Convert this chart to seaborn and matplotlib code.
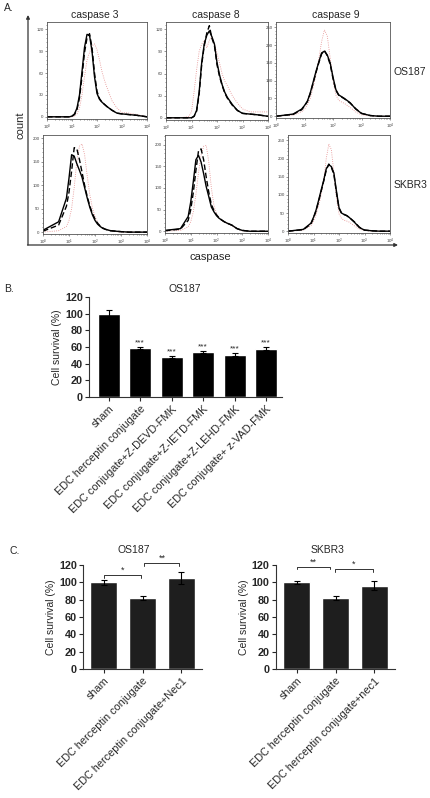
import numpy as np
import matplotlib
matplotlib.use("Agg")
import matplotlib.pyplot as plt
from matplotlib.ticker import AutoMinorLocator, MultipleLocator, LogLocator
import seaborn as sns

# === DANE: HISTOGRAMY (panel A) ===
# log10 intensywnosci kaspazy
log_grid = [0, 0.6, 0.9, 1.0, 1.1, 1.2, 1.3, 1.4, 1.5, 1.6, 1.7, 1.8, 1.9, 2.0,
            2.1, 2.2, 2.3, 2.4, 2.6, 2.8, 3.0, 3.3, 3.6, 4.0]

c3_os_solid = [0, 0, 0, 1, 4, 12, 30, 62, 95, 113, 112, 90, 55, 32, 24, 20, 17, 14, 9, 5, 4, 3, 2, 0]
c3_os_dash = [0, 0, 0, 1, 3, 10, 26, 55, 88, 108, 114, 95, 60, 35, 25, 20, 17, 14, 9, 5, 4, 3, 2, 0]
c3_os_red = [0, 0, 0, 0, 1, 4, 12, 30, 55, 78, 88, 97, 100, 92, 78, 62, 50, 40, 22, 12, 6, 5, 3, 0]

c8_os_solid = [0, 0, 0, 0, 2, 10, 35, 75, 100, 112, 118, 110, 100, 75, 58, 45, 35, 28, 18, 10, 6, 5, 4, 2]
c8_os_dash = [0, 0, 0, 0, 2, 9, 32, 72, 98, 115, 125, 108, 98, 72, 56, 44, 34, 27, 17, 10, 6, 5, 4, 2]
c8_os_red = [0, 0, 2, 8, 35, 65, 90, 100, 105, 95, 105, 110, 100, 88, 74, 60, 50, 44, 30, 20, 12, 8, 8, 8]

c9_os_solid = [0, 6, 20, 30, 42, 65, 95, 125, 152, 178, 183, 172, 150, 110, 75, 60, 55, 50, 38, 20, 8, 2, 0, 0]
c9_os_dash = [0, 5, 18, 29, 41, 63, 92, 122, 150, 175, 185, 170, 146, 106, 73, 59, 54, 49, 37, 21, 8, 2, 0, 0]
c9_os_red = [0, 3, 12, 20, 32, 50, 80, 115, 160, 210, 243, 225, 165, 100, 60, 45, 40, 36, 25, 12, 4, 1, 0, 0]

c3_sk_solid = [4, 22, 72, 115, 165, 162, 146, 132, 117, 95, 73, 53, 37, 25, 17, 12, 8, 6, 3, 2, 1, 0, 0, 0]
c3_sk_dash = [2, 15, 55, 85, 130, 180, 178, 155, 128, 100, 76, 56, 40, 28, 19, 13, 9, 6, 3, 2, 1, 0, 0, 0]
c3_sk_red = [0, 3, 12, 25, 50, 95, 150, 183, 188, 165, 120, 80, 52, 33, 21, 13, 9, 6, 3, 1, 0, 0, 0, 0]

c8_sk_solid = [2, 6, 34, 68, 115, 165, 175, 160, 133, 103, 80, 56, 45, 36, 30, 26, 22, 19, 14, 6, 2, 0, 0, 0]
c8_sk_dash = [1, 5, 25, 50, 90, 140, 185, 190, 165, 125, 90, 62, 48, 38, 31, 26, 22, 19, 14, 6, 2, 0, 0, 0]
c8_sk_red = [0, 2, 10, 22, 45, 85, 135, 175, 196, 198, 160, 100, 60, 40, 30, 25, 22, 19, 13, 5, 1, 0, 0, 0]

c9_sk_solid = [0, 5, 22, 38, 58, 85, 113, 140, 172, 183, 178, 160, 110, 65, 50, 46, 43, 38, 25, 10, 3, 1, 0, 0]
c9_sk_dash = [0, 4, 20, 36, 56, 82, 110, 138, 168, 185, 176, 156, 106, 63, 49, 46, 43, 38, 26, 11, 3, 1, 0, 0]
c9_sk_red = [0, 3, 15, 28, 45, 70, 100, 140, 200, 240, 225, 160, 90, 48, 35, 30, 28, 25, 15, 6, 2, 0, 0, 0]

# === DANE: PANEL B ===
b_labels = ["sham", "EDC herceptin conjugate", "EDC conjugate+Z-DEVD-FMK",
            "EDC conjugate+Z-IETD-FMK", "EDC conjugate+Z-LEHD-FMK", "EDC conjugate+ z-VAD-FMK"]
b_values = [100, 59, 48, 54, 51, 58]
b_errors = [4, 1, 1, 1, 2, 1.5]
b_stars = ["", "***", "***", "***", "***", "***"]

# === DANE: PANEL C ===
c_os_labels = ["sham", "EDC herceptin conjugate", "EDC herceptin conjugate+Nec1"]
c_os_values = [100, 82, 105]
c_os_errors = [2.5, 2, 7]
c_os_brackets = [(0, 0.97, 108, "*"), (1.05, 1.95, 122, "**")]

c_sk_labels = ["sham", "EDC herceptin conjugate", "EDC herceptin conjugate+nec1"]
c_sk_values = [100, 82, 96]
c_sk_errors = [2, 2.5, 5]
c_sk_brackets = [(0, 0.86, 118, "**"), (0.99, 1.96, 115.5, "*")]

y_ticks = [0, 20, 40, 60, 80, 100, 120]

# === USTAWIENIA ===
sns.set_theme(style="ticks")
plt.rcParams["font.family"] = ["Liberation Sans", "DejaVu Sans"]
plt.rcParams["axes.linewidth"] = 0.8

W, H = 430, 798
fig = plt.figure(figsize=(W / 100, H / 100), dpi=100)


def box(l, t, r, b):
    return [l / W, 1 - b / H, (r - l) / W, (b - t) / H]


# nakladka w pikselach na strzalki i napisy
ov = fig.add_axes([0, 0, 1, 1])
ov.set_xlim(0, W)
ov.set_ylim(H, 0)
ov.axis("off")

# === PANEL A ===
hist_panels = [
    ((47, 22, 147, 119), c3_os_solid, c3_os_dash, c3_os_red, (-3, 130), 30),
    ((166, 22, 268, 120), c8_os_solid, c8_os_dash, c8_os_red, (-3, 130), 30),
    ((276, 22, 390, 118), c9_os_solid, c9_os_dash, c9_os_red, (-5, 265), 50),
    ((43, 135, 147, 234), c3_sk_solid, c3_sk_dash, c3_sk_red, (-4, 207), 50),
    ((165, 135, 268, 233), c8_sk_solid, c8_sk_dash, c8_sk_red, (-4, 222), 50),
    ((288, 135, 390, 233), c9_sk_solid, c9_sk_dash, c9_sk_red, (-5, 265), 50),
]
xs = 10 ** np.array(log_grid)
for pos, solid, dash, red, ylim, step in hist_panels:
    ax = fig.add_axes(box(*pos))
    sns.lineplot(x=xs, y=red, ax=ax, color="#e58a8a", linewidth=0.6, linestyle=":")
    sns.lineplot(x=xs, y=dash, ax=ax, color="black", linewidth=1.0, linestyle=(0, (4, 2)))
    sns.lineplot(x=xs, y=solid, ax=ax, color="black", linewidth=1.0)
    ax.set_xscale("log")
    ax.set_xlim(1, 1e4)
    ax.set_ylim(*ylim)
    ax.yaxis.set_major_locator(MultipleLocator(step))
    ax.yaxis.set_minor_locator(AutoMinorLocator(5))
    ax.xaxis.set_major_locator(LogLocator(base=10, numticks=6))
    ax.tick_params(which="both", labelsize=3.2, length=1.5, width=0.4, pad=1, colors="#444")
    ax.tick_params(which="minor", length=0.8)
    for s in ax.spines.values():
        s.set_linewidth(0.6)
        s.set_color("#555")
    ax.set_xlabel("")
    ax.set_ylabel("")

ov.annotate("", xy=(28, 15), xytext=(28, 245),
            arrowprops=dict(arrowstyle="-|>", lw=0.9, color="#333", mutation_scale=5, shrinkA=0, shrinkB=0))
ov.annotate("", xy=(398, 245), xytext=(27.5, 245),
            arrowprops=dict(arrowstyle="-|>", lw=0.9, color="#333", mutation_scale=5, shrinkA=0, shrinkB=0))
ov.text(20, 125, "count", rotation=90, ha="center", va="center", fontsize=8)
ov.text(210, 257, "caspase", ha="center", va="center", fontsize=8)
ov.text(95, 15, "caspase 3", ha="center", va="center", fontsize=7.5)
ov.text(216, 15, "caspase 8", ha="center", va="center", fontsize=7.5)
ov.text(336, 15, "caspase 9", ha="center", va="center", fontsize=7.5)
ov.text(394, 72, "OS187", ha="left", va="center", fontsize=7.5)
ov.text(394, 185, "SKBR3", ha="left", va="center", fontsize=7.5)
ov.text(4, 8, "A.", ha="left", va="center", fontsize=7.5)
ov.text(4, 289, "B.", ha="left", va="center", fontsize=7.5)
ov.text(9, 551, "C.", ha="left", va="center", fontsize=7.5)


# === WYKRESY SLUPKOWE ===
def bar_panel(pos, labels, values, errors, color, xlim):
    ax = fig.add_axes(box(*pos))
    sns.barplot(x=labels, y=values, ax=ax, color=color, width=0.7, saturation=1)
    ax.errorbar(np.arange(len(values)), values, yerr=errors, fmt="none", ecolor="black",
                elinewidth=0.8, capsize=2.5, capthick=0.8, clip_on=False)
    ax.set_xlim(*xlim)
    ax.set_ylim(0, 120)
    ax.set_yticks(y_ticks, labels=[str(t) for t in y_ticks], fontweight="bold", fontsize=7.8)
    ax.set_xticks(range(len(labels)))
    ax.set_xticklabels(labels, rotation=45, ha="right", rotation_mode="anchor", fontsize=7.8)
    ax.tick_params(axis="y", length=3, width=0.8, pad=1.5)
    ax.tick_params(axis="x", length=3, width=0.8, pad=2)
    ax.set_ylabel("Cell survival (%)", fontsize=7.5, labelpad=2)
    sns.despine(ax=ax)
    for s in ax.spines.values():
        s.set_color("#333")
    return ax


axb = bar_panel((89, 297, 282, 397), b_labels, b_values, b_errors, "black", (-0.62, 5.5))
for i, (v, e, st) in enumerate(zip(b_values, b_errors, b_stars)):
    if st:
        axb.text(i, v + e + 1, st, ha="center", va="bottom", fontsize=6)
ov.text(185, 289, "OS187", ha="center", va="center", fontsize=7.5)


def brackets(ax, items):
    for x1, x2, y, st in items:
        ax.plot([x1, x1, x2, x2], [y - 3, y, y, y - 3], color="#333", lw=0.7, clip_on=False)
        ax.text((x1 + x2) / 2, y + 0.5, st, ha="center", va="bottom", fontsize=6.5)


axc1 = bar_panel((83, 565, 202, 669), c_os_labels, c_os_values, c_os_errors, "#1e1e1e", (-0.53, 2.53))
brackets(axc1, c_os_brackets)
axc2 = bar_panel((276, 565, 395, 669), c_sk_labels, c_sk_values, c_sk_errors, "#1e1e1e", (-0.53, 2.53))
brackets(axc2, c_sk_brackets)
ov.text(134, 550, "OS187", ha="center", va="center", fontsize=7.5)
ov.text(328, 550, "SKBR3", ha="center", va="center", fontsize=7.5)

fig.savefig("out.png", dpi=100)
